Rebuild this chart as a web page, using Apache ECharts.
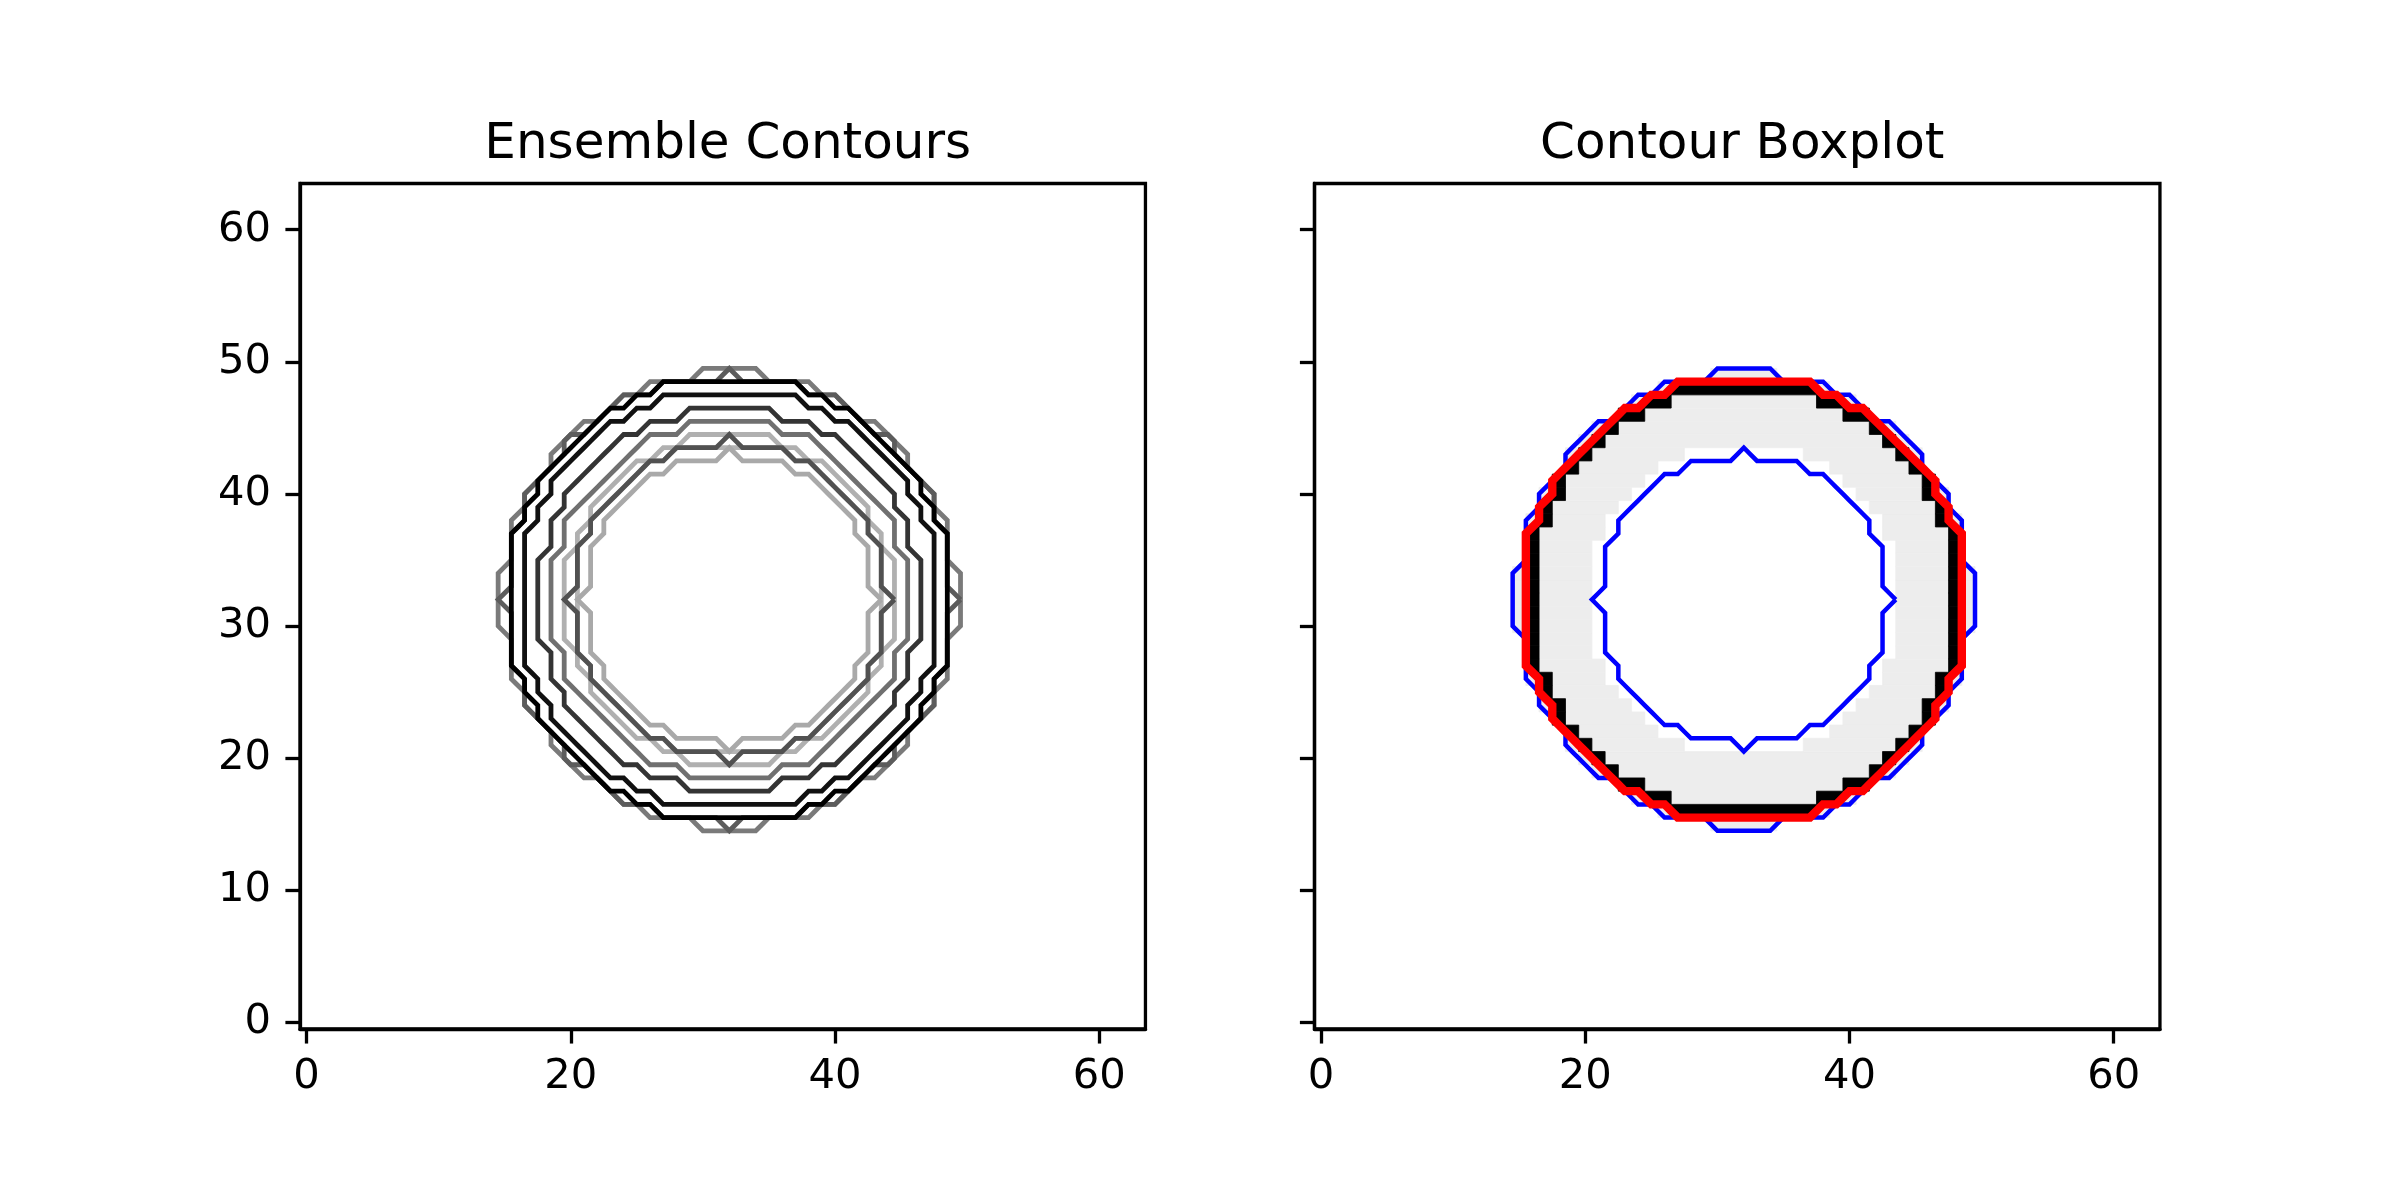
<!DOCTYPE html>
<html>
<head>
<meta charset="utf-8">
<script src="https://cdn.jsdelivr.net/npm/echarts/dist/echarts.min.js"></script>
<style>
    html, body { margin: 0; background: #fff; }
    #chart { width: 2400px; height: 1200px; }
</style>
</head>
<body>
<div id="chart"></div>
<script>
// every member is a filled mask centred on pixel (32, 32);
// each list gives the half-width of the mask row at row offset 0, 1, 2, ...
const centre = [32, 32];
const memberA = [17, 17, 17, 16, 16, 16, 16, 15, 15, 14, 13, 13, 12, 11, 9, 8, 6, 2];
const memberB = [17, 16, 16, 16, 16, 16, 15, 15, 15, 14, 13, 12, 12, 10, 9, 8, 5, 0];
const memberC = [16, 16, 16, 16, 16, 16, 15, 15, 14, 14, 13, 12, 11, 10, 9, 7, 5];
const memberD = [15, 15, 15, 15, 15, 15, 14, 14, 13, 13, 12, 11, 10, 9, 7, 5];
const memberE = [14, 14, 14, 14, 13, 13, 13, 12, 12, 11, 10, 9, 8, 6, 3];
const memberF = [13, 13, 13, 13, 12, 12, 12, 11, 10, 9, 8, 7, 6, 3];
const memberG = [12, 12, 12, 12, 11, 11, 10, 10, 9, 8, 7, 5, 3];
const memberH = [12, 11, 11, 11, 11, 10, 10, 9, 8, 7, 6, 4, 0];
const memberJ = [11, 11, 11, 11, 11, 10, 10, 9, 8, 7, 6, 4];
const memberI = [11, 10, 10, 10, 10, 9, 9, 8, 7, 6, 4, 0];

// drawing order of the ensemble (light ones first) and their greys
const ensemble = [memberG, memberJ, memberI, memberA, memberF, memberB, memberH, memberE, memberD, memberC];
const ensembleColors = ['#b0b0b0', '#b4b4b4', '#a9a9a9', '#7a7a7a', '#707070', '#5c5c5c', '#515151', '#343434', '#111111', '#000000'];

// boxplot parts
const median = memberC;
const outliers = [memberA, memberI];
const band100 = { outer: memberA, inner: memberJ };
const band50 = { outer: memberC, inner: memberD };

const xTicks = [0, 20, 40, 60];
const yTicks = [0, 10, 20, 30, 40, 50, 60];
const gridSize = 64;

function inside(rows, x, y) {
    const dy = Math.abs(y - centre[1]);
    return dy < rows.length && Math.abs(x - centre[0]) <= rows[dy];
}

// iso-line at 0.5 round a mask (marching squares on a convex pixel disk)
function contourOf(rows) {
    const q = [];
    rows.forEach((w, dy) => q.push([w + 0.5, dy]));
    for (let dx = 0; dx <= rows[0]; dx++) {
        let top = 0;
        rows.forEach((w, dy) => { if (w >= dx) top = dy; });
        q.push([dx, top + 0.5]);
    }
    q.sort((a, b) => a[1] - b[1] || b[0] - a[0]);
    const rev = q.slice().reverse();
    const ring = [];
    q.forEach(p => ring.push([p[0], p[1]]));
    rev.slice(1).forEach(p => ring.push([-p[0], p[1]]));
    q.slice(1).forEach(p => ring.push([-p[0], -p[1]]));
    rev.slice(1).forEach(p => ring.push([p[0], -p[1]]));
    return ring.map(p => [centre[0] + p[0], centre[1] + p[1]]);
}

// runs of pixels in outer but not in inner, one per row piece
function bandRuns(band) {
    const runs = [];
    for (let y = 0; y < gridSize; y++) {
        let start = null;
        for (let x = 0; x <= gridSize; x++) {
            const on = x < gridSize && inside(band.outer, x, y) && !inside(band.inner, x, y);
            if (on && start === null) start = x;
            if (!on && start !== null) {
                runs.push([start - 0.5, x - 0.5, y]);
                start = null;
            }
        }
    }
    return runs;
}

function runSeries(band, color) {
    return {
        type: 'custom',
        xAxisIndex: 1,
        yAxisIndex: 1,
        silent: true,
        data: bandRuns(band),
        encode: { x: [0, 1], y: 2 },
        renderItem: function (params, api) {
            const a = api.coord([api.value(0), api.value(2) + 0.5]);
            const b = api.coord([api.value(1), api.value(2) - 0.5]);
            return {
                type: 'rect',
                shape: { x: a[0], y: a[1], width: b[0] - a[0], height: b[1] - a[1] },
                style: { fill: color, stroke: color, lineWidth: 0.8 }
            };
        }
    };
}

function lineSeries(rows, color, width, idx) {
    return {
        type: 'line',
        xAxisIndex: idx,
        yAxisIndex: idx,
        data: contourOf(rows),
        showSymbol: false,
        symbol: 'none',
        silent: true,
        lineStyle: { color: color, width: width, join: 'miter' }
    };
}

const font = 'DejaVu Sans';
const axisSide = 845.45;
const gridLefts = [300, 1314.5];
const gridTop = 183.5;

function xAxisFor(i) {
    return {
        gridIndex: i, type: 'value', min: -0.5, max: 63.5,
        axisLine: { show: true, onZero: false, lineStyle: { color: '#000', width: 3.3 } },
        splitLine: { show: false },
        axisTick: { customValues: xTicks, length: 14.6, lineStyle: { color: '#000', width: 3.3 } },
        axisLabel: { customValues: xTicks, fontSize: 41.7, color: '#000', margin: 27, fontFamily: font }
    };
}

function yAxisFor(i) {
    return {
        gridIndex: i, type: 'value', min: -0.5, max: 63.5,
        axisLine: { show: true, onZero: false, lineStyle: { color: '#000', width: 3.3 } },
        splitLine: { show: false },
        axisTick: { customValues: yTicks, length: 14.6, lineStyle: { color: '#000', width: 3.3 } },
        axisLabel: { show: i === 0, customValues: yTicks, fontSize: 41.7, color: '#000', margin: 29, fontFamily: font }
    };
}

const series = [];
ensemble.forEach((m, k) => series.push(lineSeries(m, ensembleColors[k], 4.8, 0)));
series.push(runSeries(band100, '#ededed'));
series.push(runSeries(band50, '#000000'));
outliers.forEach(m => series.push(lineSeries(m, '#0000ff', 4.5, 1)));
series.push(lineSeries(median, '#ff0000', 8.4, 1));

const titleStyle = { fontSize: 50, fontWeight: 'normal', color: '#000', fontFamily: font };
const myChart = echarts.init(document.getElementById('chart'));
const option = {
    animation: false,
    backgroundColor: '#fff',
    title: [
        { text: 'Ensemble Contours', left: gridLefts[0] + axisSide / 2, top: 115, textAlign: 'center', textStyle: titleStyle },
        { text: 'Contour Boxplot', left: gridLefts[1] + axisSide / 2, top: 115, textAlign: 'center', textStyle: titleStyle }
    ],
    grid: gridLefts.map(l => ({
        left: l, top: gridTop, width: axisSide, height: axisSide,
        show: true, borderColor: '#000', borderWidth: 3.3, backgroundColor: 'transparent'
    })),
    xAxis: [xAxisFor(0), xAxisFor(1)],
    yAxis: [yAxisFor(0), yAxisFor(1)],
    series: series
};
option && myChart.setOption(option);
</script>
</body>
</html>
